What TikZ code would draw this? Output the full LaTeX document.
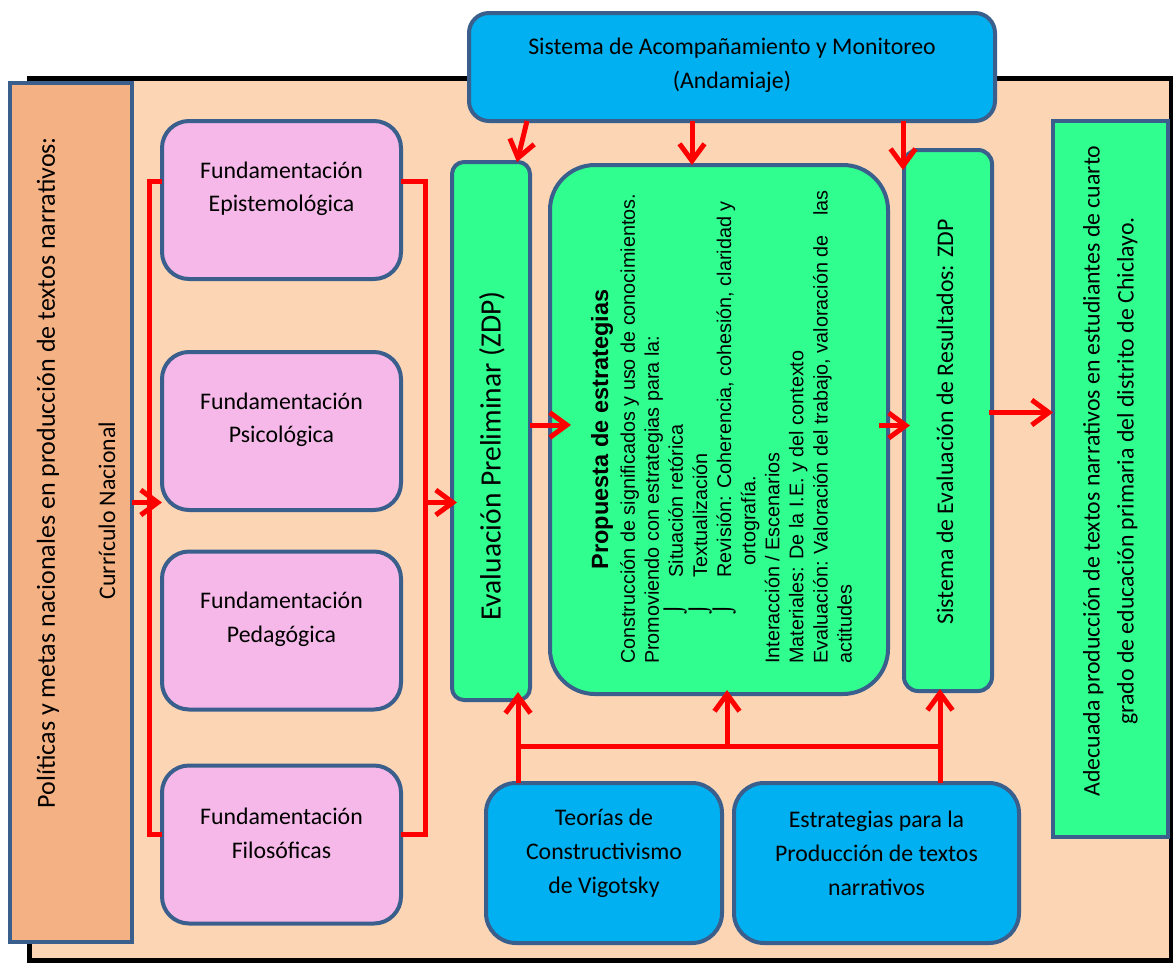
\documentclass[tikz,border=0pt]{standalone}
\usepackage{fontspec}
\setmainfont{Carlito}
\newfontfamily\arialf{Liberation Sans}
\newfontfamily\symf{DejaVu Sans}
\usetikzlibrary{arrows.meta,calc}
\definecolor{peach}{HTML}{FCD5B5}
\definecolor{polc}{HTML}{F4B183}
\definecolor{pinkc}{HTML}{F5B8E8}
\definecolor{greenc}{HTML}{30FF90}
\definecolor{bluec}{HTML}{00B0F0}
\definecolor{bord}{HTML}{3B5F8C}
\begin{document}
\begin{tikzpicture}[x=1pt,y=-1pt,
  bx/.style={draw=bord, line width=4pt, inner sep=0pt, outer sep=0pt},
  pinkbox/.style={bx, fill=pinkc, rounded corners=27pt, minimum width=239pt, minimum height=158pt},
  bluebox/.style={bx, fill=bluec, rounded corners=30pt, minimum height=160pt},
  txt/.style={inner sep=0pt, align=center, font=\fontsize{23.8pt}{33.5pt}\selectfont},
  rtxt/.style={txt, rotate=90},
  redl/.style={draw=red, line width=5pt},
  rarr/.style={redl, -{Straight Barb[length=17pt,width=25pt]}}
]
\useasboundingbox (0,0) rectangle (1173,962);
% background frame
\draw[line width=5pt, fill=peach] (29.5,78.5) rectangle (1171,960.5);

% boxes
\node[bx, fill=polc, minimum width=122pt, minimum height=859pt] (pol) at (71,512.5) {};
\node[pinkbox] (epist) at (281.5,200) {};
\node[pinkbox] (psico) at (281.5,431) {};
\node[pinkbox] (pedag) at (281.5,630.5) {};
\node[pinkbox] (filos) at (281.5,844.5) {};
\node[bx, fill=greenc, rounded corners=12pt, minimum width=78pt, minimum height=538pt] (evalp) at (491,431) {};
\node[bx, fill=greenc, rounded corners=45pt, minimum width=338pt, minimum height=529pt] (prop) at (719,429.5) {};
\node[bx, fill=greenc, rounded corners=14pt, minimum width=88pt, minimum height=541pt] (siseval) at (948,420.5) {};
\node[bx, fill=greenc, minimum width=115pt, minimum height=716pt] (result) at (1110.5,479) {};
\node[bx, fill=bluec, rounded corners=20pt, minimum width=526pt, minimum height=108pt] (acomp) at (732,67) {};
\node[bluebox, minimum width=236pt] (teorias) at (604,863) {};
\node[bluebox, minimum width=285pt] (estrat) at (876.5,863) {};

% texts
\node[rtxt, font=\fontsize{26pt}{30pt}\selectfont] (tpol1) at ($(pol.center)+(-23,-40)$) {Políticas y metas nacionales en producción de textos narrativos:};
\node[rtxt] (tpol2) at ($(pol.center)+(36,-2)$) {Currículo Nacional};
\node[txt] (tepist) at ($(epist.center)+(0,-11)$) {Fundamentación\\Epistemológica};
\node[txt] (tpsico) at ($(psico.center)+(0,-11)$) {Fundamentación\\Psicológica};
\node[txt] (tpedag) at ($(pedag.center)+(0,-11)$) {Fundamentación\\Pedagógica};
\node[txt] (tfilos) at ($(filos.center)+(0,-11)$) {Fundamentación\\Filosóficas};
\node[txt] (tacomp) at ($(acomp.center)+(0,-1.5)$) {Sistema de Acompañamiento y Monitoreo\\(Andamiaje)};
\node[txt, font=\fontsize{23.8pt}{34pt}\selectfont] (tteor) at ($(teorias.center)+(0,-10)$) {Teorías de\\Constructivismo\\de Vigotsky};
\node[txt, font=\fontsize{23.8pt}{34pt}\selectfont] (testr) at ($(estrat.center)+(0,-10)$) {Estrategias para la\\Producción de textos\\narrativos};
\node[rtxt, font=\fontsize{29.5pt}{34pt}\selectfont] (tevalp) at ($(evalp.center)+(1,25)$) {Evaluación Preliminar (ZDP)};
\node[rtxt] (tsis) at ($(siseval.center)+(-3,1.5)$) {Sistema de Evaluación de Resultados: ZDP};
\node[rtxt, font=\fontsize{23.8pt}{34pt}\selectfont] (tres) at ($(result.center)+(0,-8)$) {Adecuada producción de textos narrativos en estudiantes de cuarto\\grado de educación primaria del distrito de Chiclayo.};
\node[rotate=90, inner sep=0pt, font=\arialf\bfseries\fontsize{23.5pt}{28pt}\selectfont] (tprop) at ($(prop.center)+(-117,0)$) {Propuesta de estrategias};
\node[rotate=90, inner sep=0pt, anchor=north west, align=left, font=\arialf\fontsize{19.8pt}{24.1pt}\selectfont] (tbody) at ($(prop.south west)+(70,-30)$) {Construcción de significados y uso de conocimientos.\\
Promoviendo con estrategias para la:\\
\hspace*{49pt}{\symf ⌡}\hspace{27pt}Situación retórica\\
\hspace*{49pt}{\symf ⌡}\hspace{27pt}Textualización\\
\hspace*{49pt}{\symf ⌡}\hspace{27pt}Revisión: Coherencia, cohesión, claridad y\\
\hspace*{98pt}ortografía.\\
Interacción / Escenarios\\
Materiales: De la I.E. y del contexto\\
Evaluación: Valoración del trabajo, valoración de\hspace{14pt} las\\
actitudes};

% left bracket and input arrow
\coordinate (e1) at ($(epist.west)+(0,-19)$);
\coordinate (f1) at ($(filos.west)+(0,-10)$);
\draw[redl] (e1) -- ($(e1)+(-13,0)$) |- (f1);
\coordinate (ar) at ($(pol.east)+(0,-10)$);
\draw[rarr] (ar) -- (ar -| psico.west);
% right bracket and arrow
\coordinate (e2) at ($(epist.east)+(0,-19)$);
\coordinate (f2) at ($(filos.east)+(0,-10)$);
\coordinate (rb) at ($(e2)+(24,0)$);
\draw[redl] (e2) -- (rb) |- (f2);
\draw[rarr] (rb |- ar) -- ($(evalp.west |- ar)+(5,0)$);

% arrows from top box
\coordinate (t1) at ([xshift=58pt]acomp.south west);
\coordinate (t2) at ([xshift=223pt]acomp.south west);
\coordinate (t3) at ([xshift=434pt]acomp.south west);
\draw[rarr] (t1) -- ([xshift=65pt]evalp.north west);
\draw[rarr] (t2) -- (t2 |- prop.north);
\draw[rarr] (t3) -- ($(t3 |- siseval.north)+(0,20)$);

% middle arrows
\draw[rarr] ($(evalp.east)+(0,-6)$) -- ($(prop.west |- evalp.east)+(21,-6)$);
\draw[rarr] ($(prop.east)+(-9,-4)$) -- ($(siseval.west |- prop.east)+(6,-4)$);
\draw[rarr] ($(siseval.east)+(-3,-8)$) -- ($(result.west |- siseval.east)+(0,-8)$);

% bottom arrows
\coordinate (b1) at ([xshift=32pt]teorias.north west);
\coordinate (b3) at ([xshift=206pt]estrat.north west);
\coordinate (h1) at ($(b1)+(0,-37)$);
\coordinate (h3) at ($(b3)+(0,-37)$);
\draw[redl] (b1) -- (h1) -- (h3) -- (b3);
\draw[rarr] (h1) -- ($(h1 |- evalp.south)+(0,-8)$);
\coordinate (hm) at ($(h1 -| prop.south)+(8,0)$);
\draw[rarr] (hm) -- ($(hm |- prop.south)+(0,-4)$);
\draw[rarr] (h3) -- ($(h3 |- siseval.south)+(0,-2)$);
\end{tikzpicture}
\end{document}
